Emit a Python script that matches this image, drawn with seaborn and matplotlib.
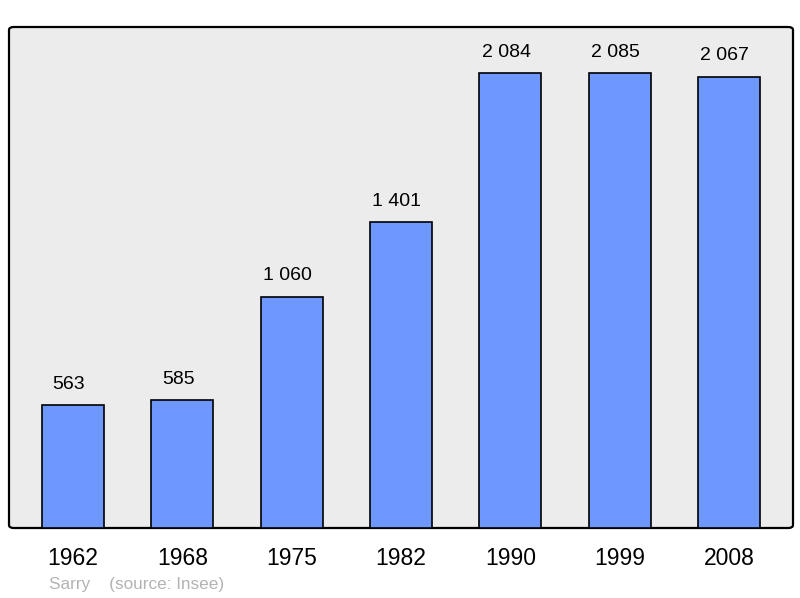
import matplotlib
matplotlib.use("Agg")
import matplotlib.pyplot as plt
import seaborn as sns
import pandas as pd
from matplotlib.patches import FancyBboxPatch

# -----------------------------------------
# Data
# -----------------------------------------
years = ["1962", "1968", "1975", "1982", "1990", "1999", "2008"]
population = [563, 585, 1060, 1401, 2084, 2085, 2067]
value_labels = ["563", "585", "1 060", "1 401", "2 084", "2 085", "2 067"]

df = pd.DataFrame({"year": years, "population": population})

# -----------------------------------------
# Plot
# -----------------------------------------
sns.set_style("white")
plt.rcParams["font.family"] = ["Liberation Sans", "DejaVu Sans"]

fig = plt.figure(figsize=(8, 5.98), dpi=100)
ax = fig.add_axes([9 / 800, 1 - 528 / 598, 784 / 800, 501 / 598])

sns.barplot(data=df, x="year", y="population", color="#6f98ff", saturation=1,
            width=0.567, edgecolor="black", linewidth=1.2, ax=ax, zorder=3)

ax.set_xlim(-0.585, 6.585)
ax.set_ylim(0, 2296)

# frame with rounded corners
ax.patch.set_visible(False)
for s in ax.spines.values():
    s.set_visible(False)
frame = FancyBboxPatch((0, 0), 1, 1, boxstyle="round,pad=0,rounding_size=0.006",
                       transform=ax.transAxes, facecolor="#ececec",
                       edgecolor="black", linewidth=1.6, zorder=0, clip_on=False)
ax.add_patch(frame)

for i, (v, lab) in enumerate(zip(population, value_labels)):
    ax.annotate(lab, (i, v), xytext=(-3, 9), textcoords="offset points",
                ha="center", va="bottom", fontsize=14, color="black")

ax.set_xlabel("")
ax.set_ylabel("")
ax.set_yticks([])
ax.tick_params(axis="x", length=0, labelsize=16.5, pad=14, labelcolor="black")

fig.text(49 / 800, 1 - 584 / 598, "Sarry    (source: Insee)", fontsize=12.3,
         color="#b3b3b3", ha="left", va="center")

fig.savefig("out.png", dpi=100)
